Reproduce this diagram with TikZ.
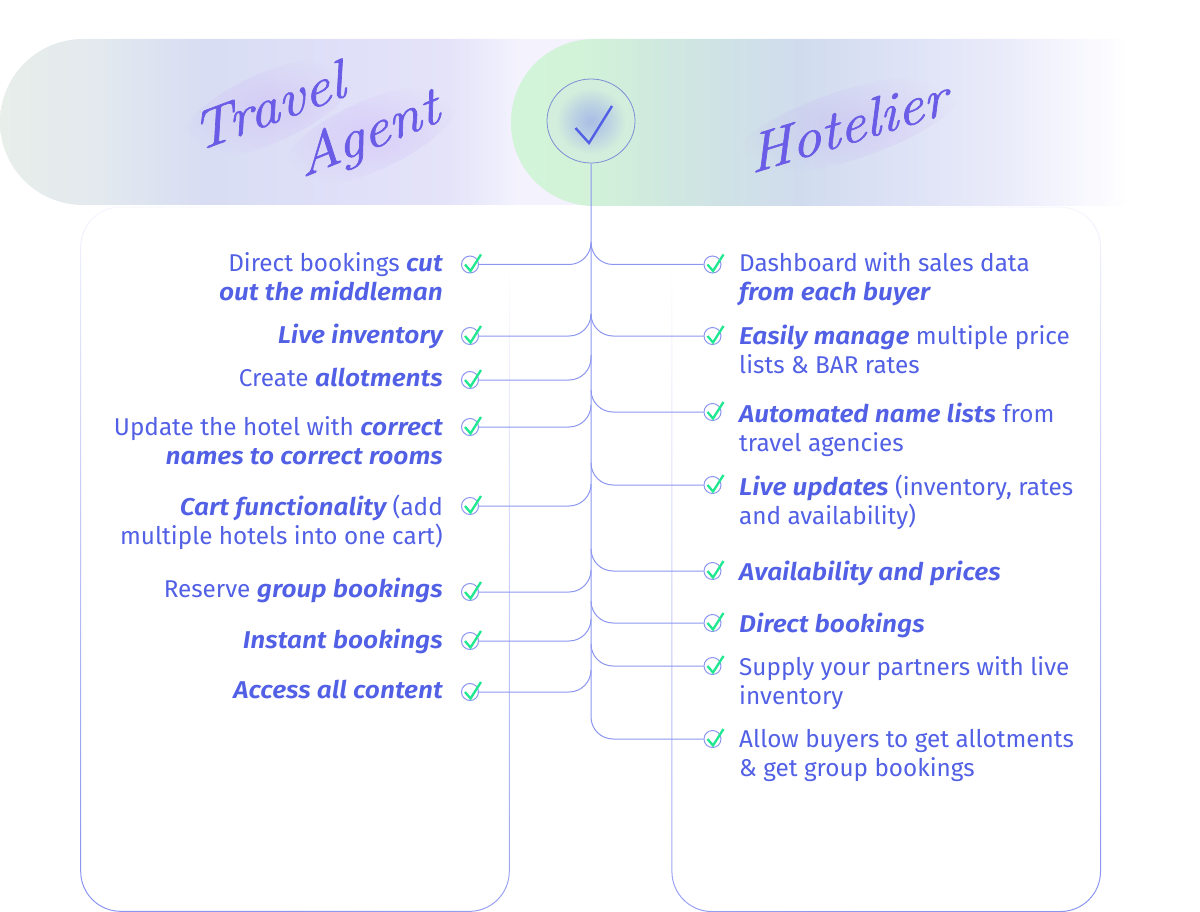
\documentclass[tikz,border=0pt]{standalone}
\usepackage{fontspec}
\setmainfont{Fira Sans}[BoldItalicFont={Fira Sans SemiBold Italic},BoldItalicFeatures={FakeStretch=1.08}]
\newfontfamily\neonfont[FakeBold=1.2]{Latin Modern Roman}
\usetikzlibrary{shapes.geometric,fadings}
\definecolor{inkblue}{HTML}{5160E5}
\definecolor{linkblue}{HTML}{8C96F0}
\definecolor{hubline}{HTML}{7E8FD6}
\definecolor{neon}{HTML}{6A5CE6}
\definecolor{haze}{HTML}{B070F5}
\definecolor{tickgreen}{HTML}{1FE890}
\pgfdeclarehorizontalshading{travelbar}{100bp}{
  color(0bp)=({rgb,255:red,232;green,238;blue,234});
  color(25bp)=({rgb,255:red,232;green,238;blue,234});
  color(32bp)=({rgb,255:red,227;green,233;blue,238});
  color(39.5bp)=({rgb,255:red,216;green,221;blue,243});
  color(50bp)=({rgb,255:red,224;green,224;blue,249});
  color(57bp)=({rgb,255:red,228;green,227;blue,249});
  color(62bp)=({rgb,255:red,243;green,242;blue,253});
  color(100bp)=({rgb,255:red,243;green,242;blue,253})}
\pgfdeclarehorizontalshading{hotelbar}{100bp}{
  color(0bp)=({rgb,255:red,210;green,244;blue,217});
  color(25bp)=({rgb,255:red,210;green,244;blue,217});
  color(29.4bp)=({rgb,255:red,210;green,243;blue,216});
  color(35.7bp)=({rgb,255:red,207;green,230;blue,225});
  color(43.3bp)=({rgb,255:red,208;green,220;blue,238});
  color(49.7bp)=({rgb,255:red,222;green,226;blue,246});
  color(56bp)=({rgb,255:red,233;green,235;blue,250});
  color(61bp)=({rgb,255:red,247;green,247;blue,254});
  color(64.2bp)=(white);
  color(100bp)=(white)}
\pgfdeclareradialshading{hubglow}{\pgfpoint{0bp}{0bp}}{
  color(0bp)=({rgb,255:red,169;green,189;blue,230});
  color(9bp)=({rgb,255:red,186;green,208;blue,227});
  color(20bp)=({rgb,255:red,211;green,238;blue,220});
  color(50bp)=({rgb,255:red,211;green,240;blue,220})}
\tikzfading[name=cardfade,top color=transparent!100,middle color=transparent!88,bottom color=transparent!0]
\tikzfading[name=hazefade,inner color=transparent!84,outer color=transparent!100]
\tikzset{
  link/.style={linkblue,line width=1pt,rounded corners=22pt},
  ticknode/.style={circle,draw=linkblue,line width=1pt,fill=white,minimum size=17pt,inner sep=0pt},
  tickline/.style={tickgreen,line width=2.3pt},
  leftlabel/.style={anchor=north east,align=right,inner sep=0pt,text=inkblue,font=\fontsize{24.3}{29}\selectfont},
  rightlabel/.style={anchor=north west,align=left,inner sep=0pt,text=inkblue,font=\fontsize{24.3}{29}\selectfont},
  neonlabel/.style={text=neon,inner sep=0pt,xslant=0.2,font=\neonfont\itshape\fontsize{57}{57}\selectfont},
  hazeblob/.style={ellipse,fill=haze,path fading=hazefade,inner sep=0pt},
}
\newcommand{\hl}[1]{{\bfseries\itshape #1}}
\newcommand{\tickon}[1]{\draw[tickline] ([shift={(-5,0)}]#1.center) -- ++(5.5,6.5) -- ++(10.5,-16.5);}
\begin{document}
\begin{tikzpicture}[x=1pt,y=-1pt]
  \useasboundingbox (0,0) rectangle (1200,912);
  % cards
  \draw[linkblue,line width=1pt,rounded corners=40pt,path fading=cardfade,fading angle=-10] (81,206) rectangle (510,911);
  \draw[linkblue,line width=1pt,rounded corners=40pt,path fading=cardfade,fading angle=10] (672,206) rectangle (1101,911);
  % header bars
  \path[rounded corners=83pt,shading=travelbar] (0,39) rectangle (700,205);
  \path[rounded corners=83pt,shading=hotelbar] (511,39) rectangle (1300,206);
  % haze behind the titles
  \node[hazeblob,rotate=24,minimum width=190pt,minimum height=70pt] (hazea) at (268,108) {};
  \node[hazeblob,rotate=24,minimum width=190pt,minimum height=70pt] (hazeb) at (370,136) {};
  \node[hazeblob,rotate=18,minimum width=240pt,minimum height=70pt] (hazec) at (848,125) {};
  % titles
  \node[neonlabel,rotate=22] (travel) at (268,106) {Travel};
  \node[neonlabel,rotate=24] (agent) at (369,136) {Agent};
  \node[neonlabel,rotate=18] (hotelier) at (848,125) {Hotelier};
  % hub
  \node[ellipse,draw=hubline,line width=0.8pt,shading=hubglow,minimum width=88pt,minimum height=84pt,inner sep=0pt] (hub) at (591,121) {};
  \coordinate (hubl) at (575.5,128);
  \coordinate (hubm) at (589,143);
  \coordinate (hubr) at (612,106);
  \draw[inkblue,line width=2.4pt] (hubl) -- (hubm) -- (hubr);
  % check marks, left
  \node[ticknode] (lc1) at (470,264.5) {};
  \node[ticknode] (lc2) at (470,336) {};
  \node[ticknode] (lc3) at (470,380) {};
  \node[ticknode] (lc4) at (470,427) {};
  \node[ticknode] (lc5) at (470,506) {};
  \node[ticknode] (lc6) at (470,592) {};
  \node[ticknode] (lc7) at (470,641) {};
  \node[ticknode] (lc8) at (470,692) {};
  % check marks, right
  \node[ticknode] (rc1) at (712.5,264.5) {};
  \node[ticknode] (rc2) at (712.5,336) {};
  \node[ticknode] (rc3) at (712.5,412) {};
  \node[ticknode] (rc4) at (712.5,485) {};
  \node[ticknode] (rc5) at (712.5,571) {};
  \node[ticknode] (rc6) at (712.5,623) {};
  \node[ticknode] (rc7) at (712.5,666) {};
  \node[ticknode] (rc8) at (712.5,739) {};
  % branch points on the trunk
  \coordinate (bl1) at (591,243);
  \coordinate (bl2) at (591,315);
  \coordinate (bl3) at (591,355);
  \coordinate (bl4) at (591,405);
  \coordinate (bl5) at (591,484);
  \coordinate (bl6) at (591,570);
  \coordinate (bl7) at (591,619);
  \coordinate (bl8) at (591,670);
  \coordinate (br1) at (591,243);
  \coordinate (br2) at (591,315);
  \coordinate (br3) at (591,390);
  \coordinate (br4) at (591,463);
  \coordinate (br5) at (591,549);
  \coordinate (br6) at (591,601);
  \coordinate (br7) at (591,644);
  % trunk
  \draw[link] (hub) |- (rc8);
  % branches
  \draw[link] (bl1) |- (lc1);
  \draw[link] (bl2) |- (lc2);
  \draw[link] (bl3) |- (lc3);
  \draw[link] (bl4) |- (lc4);
  \draw[link] (bl5) |- (lc5);
  \draw[link] (bl6) |- (lc6);
  \draw[link] (bl7) |- (lc7);
  \draw[link] (bl8) |- (lc8);
  \draw[link] (br1) |- (rc1);
  \draw[link] (br2) |- (rc2);
  \draw[link] (br3) |- (rc3);
  \draw[link] (br4) |- (rc4);
  \draw[link] (br5) |- (rc5);
  \draw[link] (br6) |- (rc6);
  \draw[link] (br7) |- (rc7);
  % green ticks
  \tickon{lc1} \tickon{lc2} \tickon{lc3} \tickon{lc4}
  \tickon{lc5} \tickon{lc6} \tickon{lc7} \tickon{lc8}
  \tickon{rc1} \tickon{rc2} \tickon{rc3} \tickon{rc4}
  \tickon{rc5} \tickon{rc6} \tickon{rc7} \tickon{rc8}
  % left labels
  \node[leftlabel] (l1) at (443,252) {Direct bookings \hl{cut}\\\hl{out the middleman}};
  \node[leftlabel] (l2) at (443,324) {\hl{Live inventory}};
  \node[leftlabel] (l3) at (443,368) {Create \hl{allotments}};
  \node[leftlabel] (l4) at (443,416) {Update the hotel with \hl{correct}\\\hl{names to correct rooms}};
  \node[leftlabel] (l5) at (443,495) {\hl{Cart functionality} (add\\multiple hotels into one cart)};
  \node[leftlabel] (l6) at (443,578) {Reserve \hl{group bookings}};
  \node[leftlabel] (l7) at (443,629) {\hl{Instant bookings}};
  \node[leftlabel] (l8) at (443,680) {\hl{Access all content}};
  % right labels
  \node[rightlabel] (r1) at (739,252) {Dashboard with sales data\\\hl{from each buyer}};
  \node[rightlabel] (r2) at (739,325) {\hl{Easily manage} multiple price\\lists \& BAR rates};
  \node[rightlabel] (r3) at (739,403) {\hl{Automated name lists} from\\travel agencies};
  \node[rightlabel] (r4) at (739,475) {\hl{Live updates} (inventory, rates\\and availability)};
  \node[rightlabel] (r5) at (739,561) {\hl{Availability and prices}};
  \node[rightlabel] (r6) at (739,613) {\hl{Direct bookings}};
  \node[rightlabel] (r7) at (739,656) {Supply your partners with live\\inventory};
  \node[rightlabel] (r8) at (739,729) {Allow buyers to get allotments\\\& get group bookings};
\end{tikzpicture}
\end{document}
